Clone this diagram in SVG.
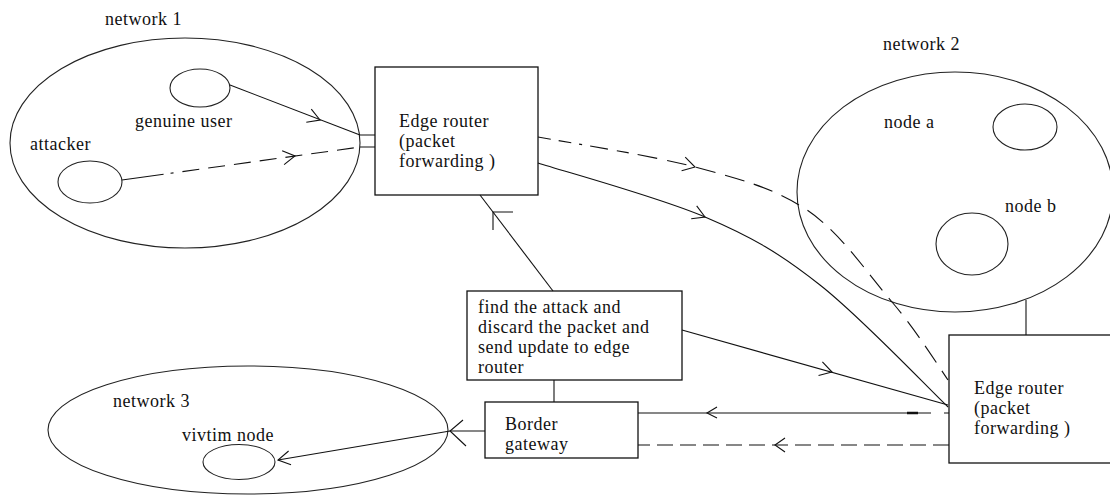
<svg xmlns="http://www.w3.org/2000/svg" width="1110" height="495" viewBox="0 0 1110 495">
<style>
  .ln { fill: none; stroke: #111; stroke-width: 1.1; }
  .bx { fill: #fff; stroke: #111; stroke-width: 1.3; }
  .el { fill: none; stroke: #222; stroke-width: 1.1; }
  .ah { fill: none; stroke: #111; stroke-width: 1.1; }
  .t { font-size: 18px; letter-spacing: 0.5px; fill: #111; }
</style>
<defs>
  <path id="chev" d="M-12,-7 L0,0 L-12,7"/>
</defs>
<rect width="1110" height="495" fill="#fff"/>

<g font-family="Liberation Serif, DejaVu Serif, serif">
<g id="network1">
  <ellipse class="el" cx="185" cy="143" rx="175" ry="105"/>
  <text class="t" x="105" y="25">network 1</text>
</g>
<g id="genuine-user">
  <ellipse class="el" cx="200" cy="88" rx="30" ry="19"/>
  <text class="t" x="135" y="127">genuine user</text>
</g>
<g id="attacker">
  <ellipse class="el" cx="90" cy="182" rx="32" ry="21"/>
  <text class="t" x="30" y="150">attacker</text>
</g>
<g id="edge-router-1">
  <rect class="bx" x="375" y="67" width="163" height="128"/>
  <text class="t" x="399" y="127">Edge router</text>
  <text class="t" x="399" y="147">(packet</text>
  <text class="t" x="399" y="167">forwarding )</text>
</g>
<g id="network2">
  <ellipse class="el" cx="955" cy="192" rx="158" ry="120"/>
  <text class="t" x="883" y="50">network 2</text>
</g>
<g id="node-a">
  <ellipse class="el" cx="1025" cy="127" rx="32" ry="23"/>
  <text class="t" x="884" y="128">node a</text>
</g>
<g id="node-b">
  <ellipse class="el" cx="972" cy="244" rx="36" ry="31"/>
  <text class="t" x="1005" y="212">node b</text>
</g>
<g id="find-box">
  <rect class="bx" x="467" y="291" width="215" height="89"/>
  <text class="t" x="478" y="313">find the attack and</text>
  <text class="t" x="478" y="333">discard the packet and</text>
  <text class="t" x="478" y="353">send update to edge</text>
  <text class="t" x="478" y="373">router</text>
</g>
<g id="border-gateway">
  <rect class="bx" x="485" y="402" width="153" height="56"/>
  <text class="t" x="505" y="430">Border</text>
  <text class="t" x="505" y="450">gateway</text>
</g>
<g id="edge-router-2">
  <rect class="bx" x="949" y="335" width="175" height="128"/>
  <text class="t" x="974" y="394">Edge router</text>
  <text class="t" x="974" y="414">(packet</text>
  <text class="t" x="974" y="434">forwarding )</text>
</g>
<g id="network3">
  <ellipse class="el" cx="248" cy="430" rx="200" ry="64"/>
  <text class="t" x="113" y="407">network 3</text>
</g>
<g id="victim-node">
  <ellipse class="el" cx="239" cy="462" rx="36" ry="17.5"/>
  <text class="t" x="182" y="441">vivtim node</text>
</g>
</g>

<g id="connectors">
  <path class="ln" d="M360,135 H375 M360,147 H375"/>
  <path class="ln" d="M230,85 L360,135"/>
  <use href="#chev" class="ah" transform="translate(320,120) rotate(21)"/>
  <path class="ln" d="M122,180 L360,147" stroke-dasharray="42 7 3 9 17 9 17 9 17 9 17 9 17 9 17 9 17 9 17 9 17 9"/>
  <use href="#chev" class="ah" transform="translate(295,156) rotate(-8)"/>
  <path class="ln" d="M538,137 C564,142 650,155 695,167 C740,179 774,188 807,210 C840,232 868,274 892,302 C916,330 939,367 948,380" stroke-dasharray="13 8 13 8 3 8 18 9 12 9 20 10 20 10 20 10 20 10 20 10 20 10 20 10 20 10 20 10 20 10 20 10 20 10 20 10 20 10 20 10 20 10 20 10 20 10"/>
  <use href="#chev" class="ah" transform="translate(695,167) rotate(15)"/>
  <path class="ln" d="M538,163 C566,172 658,197 705,217 C752,237 779.5,253 820,285 C860.5,316.7 926.7,386.7 948,407"/>
  <use href="#chev" class="ah" transform="translate(705,217) rotate(23)"/>
  <path class="ln" d="M553,291 L480,195"/>
  <path class="ah" d="M513,212 L493,212 L493,230"/>
  <path class="ln" d="M554,380 V402"/>
  <path class="ln" d="M682,330 L948,405"/>
  <use href="#chev" class="ah" transform="translate(832,372) rotate(16)"/>
  <path class="ln" d="M1026,300 V335"/>
  <path class="ln" d="M638,413 H931 M944,413 H949"/>
  <path d="M907,413 H918" stroke="#111" stroke-width="2.5"/>
  <path class="ah" d="M717,407 L707,413 L717,418"/>
  <path class="ln" d="M949,445 H638" stroke-dasharray="16 7"/>
  <path class="ah" d="M785,438 L775,445 L785,452"/>
  <path class="ln" d="M485,431 H450 L278,460"/>
  <path class="ah" d="M463,420 L450,431 L466,446"/>
  <use href="#chev" class="ah" transform="translate(278,460) rotate(170)"/>
</g>
</svg>
